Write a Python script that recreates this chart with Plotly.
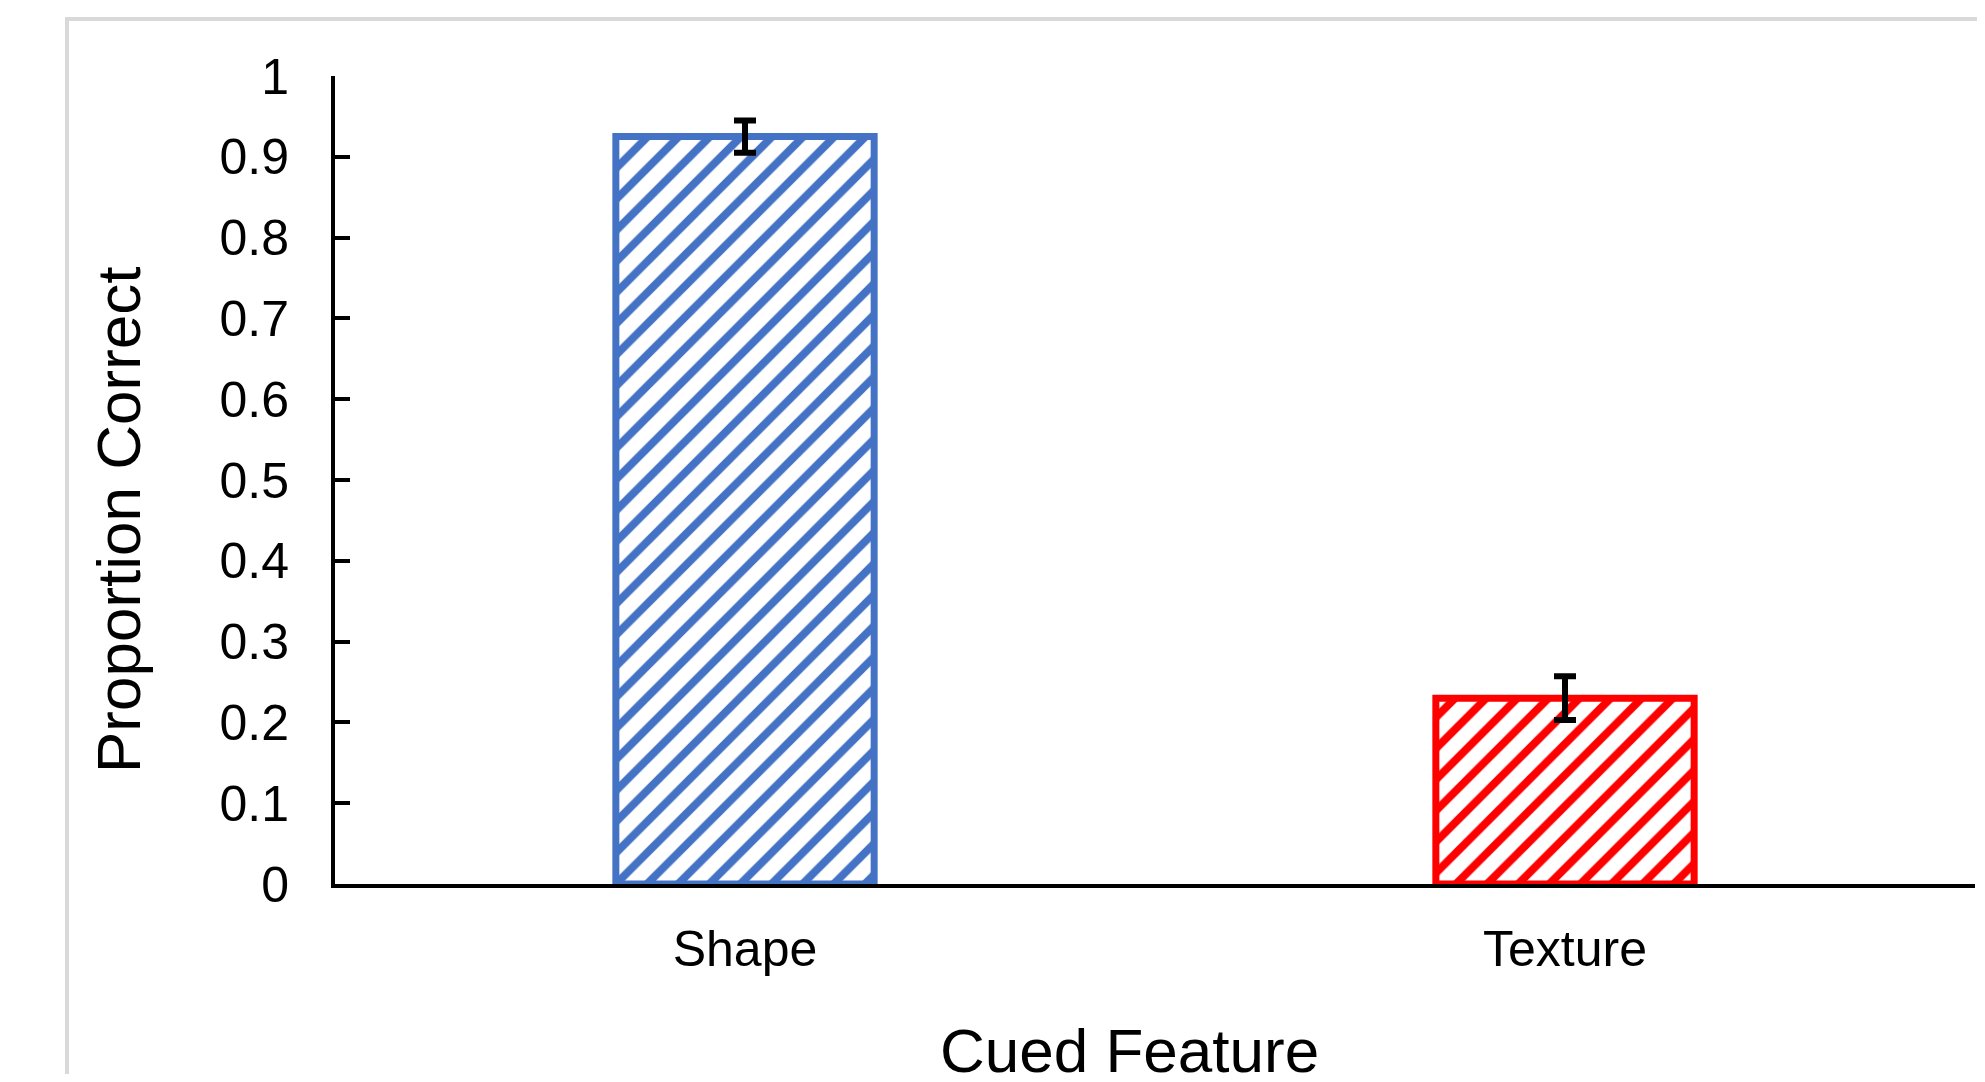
import plotly.graph_objects as go

categories = ["Shape", "Texture"]
values = [0.925, 0.23]
errors = [0.02, 0.027]
colors = ["#4472C4", "#FF0000"]
y_ticks = [0, 0.1, 0.2, 0.3, 0.4, 0.5, 0.6, 0.7, 0.8, 0.9, 1]
y_tick_labels = ["0", "0.1", "0.2", "0.3", "0.4", "0.5", "0.6", "0.7", "0.8", "0.9", "1"]

OFF = 8  # page body margin
W, H = 1985 - 2 * OFF, 1082 - 2 * OFF
# plot area in reference pixels: x 335..1975, y 76..884
L = 335 - OFF
R = W - (1975 - OFF)
T = 76 - OFF
B = H - (884 - OFF)
pw = W - L - R
ph = H - T - B

def px_x(px):
    return (px - OFF - L) / pw

def px_y(py):
    return (H - B - (py - OFF)) / ph

fig = go.Figure()
fig.add_trace(go.Bar(
    x=categories,
    y=values,
    width=0.315,
    marker=dict(
        color="white",
        line=dict(color=colors, width=7),
        pattern=dict(shape="/", fgcolor=colors, bgcolor="white", fgopacity=1,
                     size=22, solidity=0.36),
    ),
    error_y=dict(type="data", array=errors, visible=True, color="black", thickness=6, width=11),
    showlegend=False,
))

fig.update_layout(
    width=W, height=H,
    margin=dict(l=L, r=R, t=T, b=B, pad=0),
    paper_bgcolor="white",
    plot_bgcolor="white",
    font=dict(family="Liberation Sans, Arial, sans-serif", color="#000000"),
    xaxis=dict(
        range=[-0.5, 1.5],
        showline=True, linecolor="black", linewidth=4,
        ticks="", showgrid=False, zeroline=False,
        tickfont=dict(size=50, color="#000000"),
        ticklabelstandoff=18,
    ),
    yaxis=dict(
        range=[0, 1],
        tickvals=y_ticks, ticktext=y_tick_labels,
        showline=True, linecolor="black", linewidth=4,
        ticks="inside", ticklen=15, tickwidth=4, tickcolor="black",
        showgrid=False, zeroline=False,
        tickfont=dict(size=50, color="#000000"),
        ticklabelstandoff=32,
    ),
    annotations=[
        dict(text="Cued Feature", xref="paper", yref="paper",
             x=px_x(1129), y=px_y(1050), xanchor="center", yanchor="middle",
             showarrow=False, font=dict(size=62, color="#000000")),
        dict(text="Proportion Correct", xref="paper", yref="paper",
             x=px_x(118), y=px_y(520), xanchor="center", yanchor="middle",
             textangle=-90, showarrow=False, font=dict(size=62, color="#000000")),
    ],
    shapes=[
        dict(type="rect", xref="paper", yref="paper",
             x0=px_x(67), x1=px_x(2100), y0=px_y(1200), y1=px_y(19),
             line=dict(color="#D9D9D9", width=4), fillcolor="rgba(0,0,0,0)", layer="below"),
    ],
)

fig.write_html("out.html")
